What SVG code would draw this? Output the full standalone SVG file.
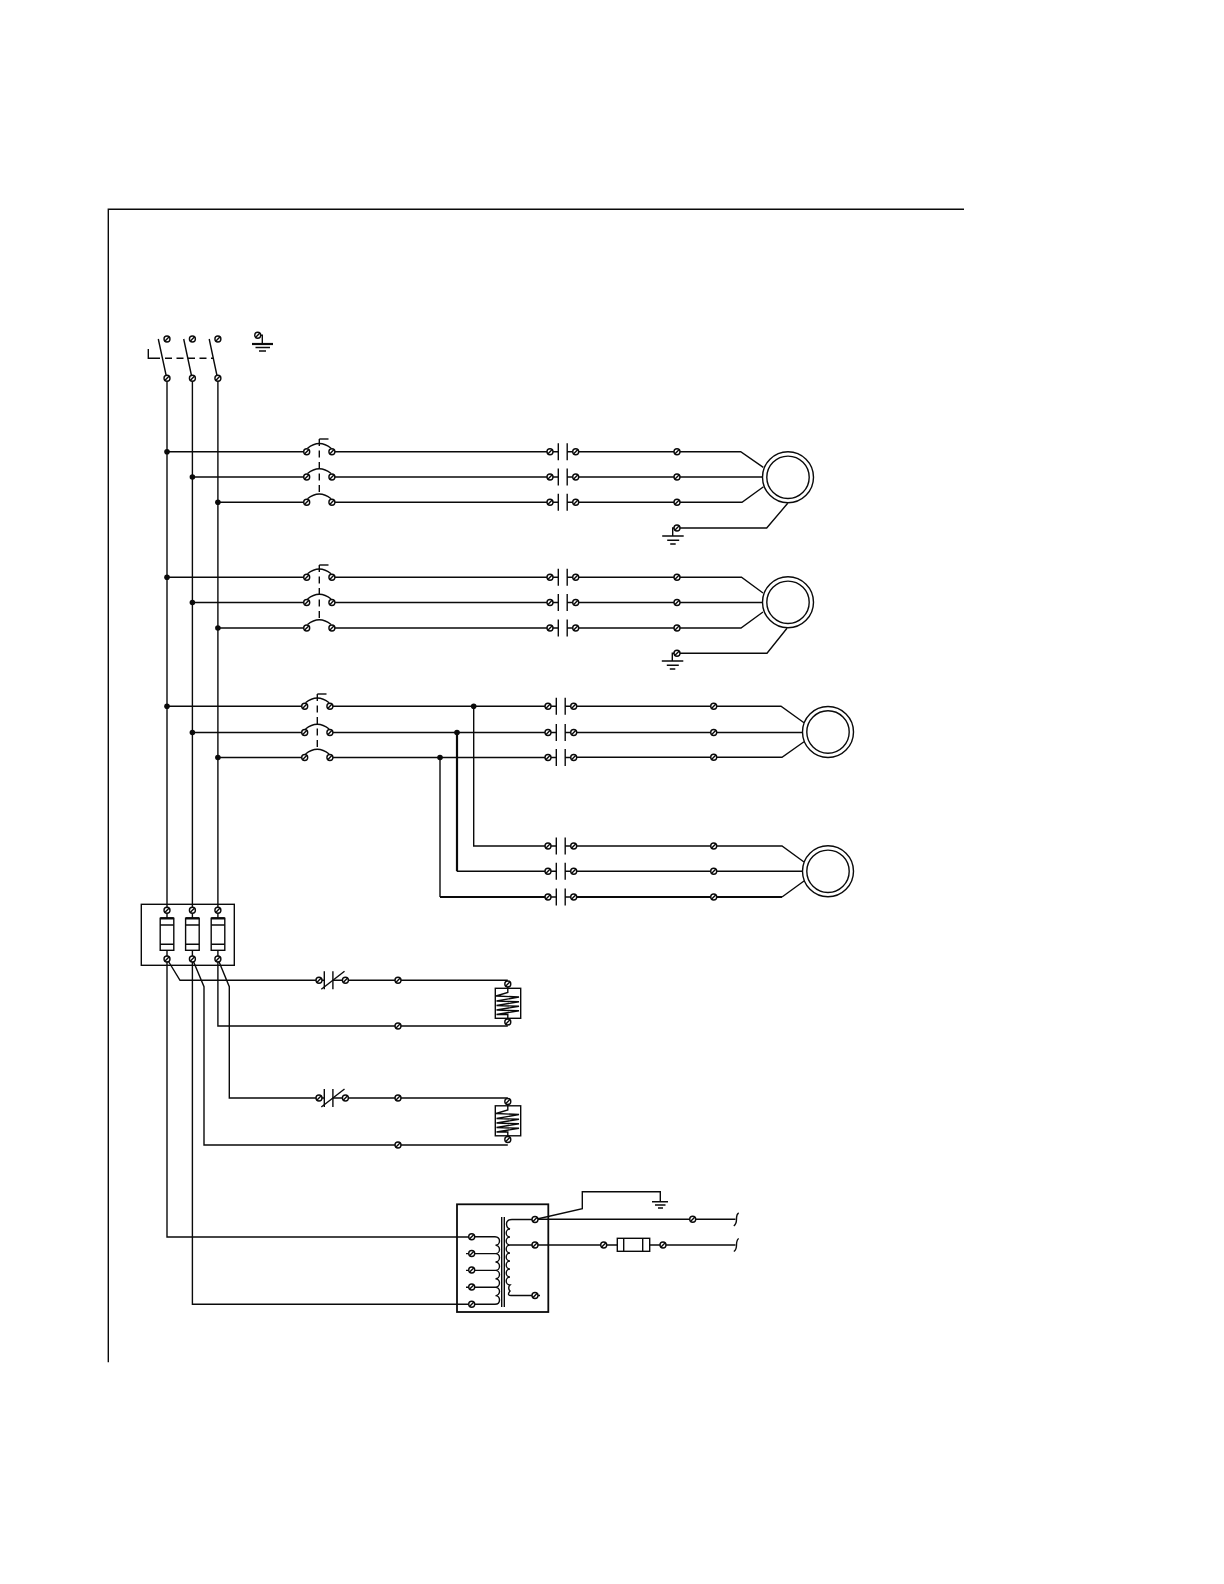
<svg xmlns="http://www.w3.org/2000/svg" width="1224" height="1584" viewBox="0 0 1224 1584">
<style>
.w{fill:none;stroke:#0a0a0a;stroke-width:1.4}
.h{fill:none;stroke:#0a0a0a;stroke-width:2.2}
.d{fill:none;stroke:#0a0a0a;stroke-width:1.4;stroke-dasharray:7 4.5}
.b{fill:none;stroke:#0a0a0a;stroke-width:1.8}
</style>
<defs>
<g id="t"><circle r="3" fill="#fff" stroke="#0a0a0a" stroke-width="1.4"/><path d="M-2.2 2.2L2.2-2.2" stroke="#0a0a0a" stroke-width="1.4"/></g>
<circle id="j" r="2.8" fill="#0a0a0a"/>
<g id="br"><path class="w" d="M-11.8-3.5Q0-13 11.8-3.5"/><use href="#t" x="-12.6"/><use href="#t" x="12.6"/></g>
<g id="ct"><path class="w" d="M4.3-8.5V8.5M13.2-8.5V8.5M-4 0H4.3M13.2 0H20"/><use href="#t" x="-4"/><use href="#t" x="21.7"/></g>
<g id="ctb"><path class="w" d="M4.3-9V9M12.9-9V9M-1 0H4.3M12.9 0H25"/><path class="w" d="M1.3 9L24.5-9"/><use href="#t" x="-1"/><use href="#t" x="25.4"/></g>
<g id="motor"><circle r="25.5" fill="#fff" stroke="#0a0a0a" stroke-width="1.4"/><circle r="21.2" fill="#fff" stroke="#0a0a0a" stroke-width="1.4"/></g>
<g id="gnd"><path class="w" d="M-10.5 0H11M-5.5 4.3H6.5M-2.5 8H3"/></g>
<g id="fuse"><rect x="-6.8" y="0" width="13.6" height="32" fill="#fff" stroke="#0a0a0a" stroke-width="1.4"/><path class="w" d="M-6.8 6.7H6.8M-6.8 26H6.8"/><path d="M-6.8 0H6.8" stroke="#0a0a0a" stroke-width="2.4"/></g>
<g id="heater"><rect x="495.3" y="988.3" width="25.4" height="30" fill="#fff" stroke="#0a0a0a" stroke-width="1.4"/><path class="w" d="M507.8 984V992.5L496 996L519 997L496.5 1001L519 1001.8L496.5 1005.5L519 1006.3L496.5 1010L519 1010.8L496.5 1014.5H507.8V1022"/></g>
</defs>

<g id="frame"><path class="w" d="M964 209.3H108.3V1362.3"/></g>

<g id="connectors">
<path class="w" d="M167 378V910M192.4 378V910M217.9 378V910"/>
<path class="w" d="M167 959V1237H471.7M192.4 959V1304.3H471.7M217.9 959V1026H507.8"/>
<path class="w" d="M167 959L180 980.3H319M192.4 959L204 986.7V1145H507.8M217.9 959L229.3 986.7V1098H319"/>
<path class="w" d="M345.4 980.3H507.8M345.4 1098H507.8"/>
<path class="w" d="M167 451.7H306.7M192.4 477H306.7M217.9 502.3H306.7"/>
<path class="w" d="M332 451.7H550M332 477H550M332 502.3H550"/>
<path class="w" d="M576 451.7H740.7L763.3 467.3M576 477H763M576 502.3H742L763.5 486.7"/>
<path class="w" d="M677 528H766.7L787.7 503.3M677 528H672.7V536"/>
<path class="w" d="M167 577.3H306.7M192.4 602.5H306.7M217.9 628H306.7"/>
<path class="w" d="M332 577.3H550M332 602.5H550M332 628H550"/>
<path class="w" d="M576 577.3H741.5L763 593M576 602.5H763M576 628H741L763 612"/>
<path class="w" d="M677 653.3H767L787 628.3M677 653.3H672.3V661"/>
<path class="w" d="M167 706.3H304.7M192.4 732.5H304.7M217.9 757.5H304.7"/>
<path class="w" d="M330 706.3H548M330 732.5H548M330 757.5H548"/>
<path class="w" d="M574 706.3H781L804 722.7M574 732.5H803M574 757.3H782L804 741.7"/>
<path class="w" d="M473.7 706.3V846H548"/>
<path class="h" d="M457 732.5V871.3"/><path class="w" d="M457 871.3H548"/>
<path class="w" d="M440 757.5V897"/><path class="h" d="M440 897H548M574 897H782"/>
<path class="w" d="M574 846H782L804 862M574 871.3H803M782 897L804 881"/>
<path class="w" d="M535 1219.5L582.3 1208.7V1191.7H660.3V1201.7"/>
<path class="w" d="M535 1219.3H735.5M535 1245H617.3M649.7 1245H735.5"/>
<path class="w" d="M738.7 1213Q736.5 1214 736.5 1219.3Q736.5 1224 733.8 1226M738.7 1238.5Q736.5 1240 736.5 1245Q736.5 1250 733.8 1251.5"/>
</g>

<g id="disconnect">
<path class="w" d="M158.3 339L166.7 378M183.7 339L192 378M209.2 339L217.5 378M148.3 349V358.3H160"/>
<path class="d" d="M165 358.3H213"/>
<use href="#t" x="167" y="339"/><use href="#t" x="192.4" y="339"/><use href="#t" x="217.9" y="339"/>
<use href="#t" x="167" y="378.3"/><use href="#t" x="192.4" y="378.3"/><use href="#t" x="217.9" y="378.3"/>
</g>
<g id="ground-main">
<path class="w" d="M257.7 335.3H262.3V344"/>
<path d="M252 344H273" stroke="#0a0a0a" stroke-width="2.2"/>
<path class="w" d="M255.5 347.5H270M259 351H266"/>
<use href="#t" x="257.7" y="335.3"/>
</g>

<g id="junctions">
<use href="#j" x="167" y="451.7"/><use href="#j" x="192.4" y="477"/><use href="#j" x="217.9" y="502.3"/>
<use href="#j" x="167" y="577.3"/><use href="#j" x="192.4" y="602.5"/><use href="#j" x="217.9" y="628"/>
<use href="#j" x="167" y="706.3"/><use href="#j" x="192.4" y="732.5"/><use href="#j" x="217.9" y="757.5"/>
<use href="#j" x="473.7" y="706.3"/><use href="#j" x="457" y="732.5"/><use href="#j" x="440" y="757.5"/>
</g>

<g id="breaker-1">
<use href="#br" x="319.3" y="451.7"/><use href="#br" x="319.3" y="477"/><use href="#br" x="319.3" y="502.3"/>
<path class="d" d="M319.3 439V494"/><path class="w" d="M319.3 439H328.5"/>
</g>
<g id="breaker-2">
<use href="#br" x="319.3" y="577.3"/><use href="#br" x="319.3" y="602.5"/><use href="#br" x="319.3" y="628"/>
<path class="d" d="M319.3 565V620"/><path class="w" d="M319.3 565H328.5"/>
</g>
<g id="breaker-3">
<use href="#br" x="317.3" y="706.3"/><use href="#br" x="317.3" y="732.5"/><use href="#br" x="317.3" y="757.5"/>
<path class="d" d="M317.3 694V749"/><path class="w" d="M317.3 694H326.5"/>
</g>

<g id="contactor-1"><use href="#ct" x="554" y="451.7"/><use href="#ct" x="554" y="477"/><use href="#ct" x="554" y="502.3"/></g>
<g id="contactor-2"><use href="#ct" x="554" y="577.3"/><use href="#ct" x="554" y="602.5"/><use href="#ct" x="554" y="628"/></g>
<g id="contactor-3"><use href="#ct" x="552" y="706.3"/><use href="#ct" x="552" y="732.5"/><use href="#ct" x="552" y="757.5"/></g>
<g id="contactor-4"><use href="#ct" x="552" y="846"/><use href="#ct" x="552" y="871.3"/><use href="#ct" x="552" y="897"/></g>

<g id="terminals-1"><use href="#t" x="677" y="451.7"/><use href="#t" x="677" y="477"/><use href="#t" x="677" y="502.3"/><use href="#t" x="677" y="528"/></g>
<g id="terminals-2"><use href="#t" x="677" y="577.3"/><use href="#t" x="677" y="602.5"/><use href="#t" x="677" y="628"/><use href="#t" x="677" y="653.3"/></g>
<g id="terminals-3"><use href="#t" x="713.7" y="706.3"/><use href="#t" x="713.7" y="732.5"/><use href="#t" x="713.7" y="757.3"/></g>
<g id="terminals-4"><use href="#t" x="713.7" y="846"/><use href="#t" x="713.7" y="871.3"/><use href="#t" x="713.7" y="897"/></g>
<g id="ground-1"><use href="#gnd" x="672.7" y="536"/></g>
<g id="ground-2"><use href="#gnd" x="672.3" y="661"/></g>

<g id="motor-1"><use href="#motor" x="788" y="477.3"/></g>
<g id="motor-2"><use href="#motor" x="788" y="602.3"/></g>
<g id="motor-3"><use href="#motor" x="828" y="732"/></g>
<g id="motor-4"><use href="#motor" x="828" y="871.3"/></g>

<g id="fuse-block">
<rect x="141.3" y="904.3" width="93" height="61" fill="none" stroke="#0a0a0a" stroke-width="1.4"/>
<path class="w" d="M167 910V918M192.4 910V918M217.9 910V918M167 950V959M192.4 950V959M217.9 950V959"/>
<use href="#fuse" x="167" y="918.3"/><use href="#fuse" x="192.4" y="918.3"/><use href="#fuse" x="218" y="918.3"/>
<use href="#t" x="167" y="910.3"/><use href="#t" x="192.4" y="910.3"/><use href="#t" x="217.9" y="910.3"/>
<use href="#t" x="167" y="959"/><use href="#t" x="192.4" y="959"/><use href="#t" x="217.9" y="959"/>
</g>

<g id="overload-1"><use href="#ctb" x="320" y="980.3"/><use href="#t" x="398" y="980.3"/><use href="#t" x="398" y="1026"/></g>
<g id="overload-2"><use href="#ctb" x="320" y="1098"/><use href="#t" x="398" y="1098"/><use href="#t" x="398" y="1145"/></g>
<g id="heater-1"><use href="#heater"/><use href="#t" x="507.8" y="984"/><use href="#t" x="507.8" y="1022"/></g>
<g id="heater-2"><use href="#heater" y="117.5"/><use href="#t" x="507.8" y="1101.5"/><use href="#t" x="507.8" y="1139.5"/></g>

<g id="transformer">
<rect x="457" y="1204.3" width="91.3" height="107.7" fill="none" stroke="#0a0a0a" stroke-width="1.8"/>
<path class="w" d="M501.7 1217V1307M504.3 1217V1307"/>
<path class="w" d="M471.7 1236.7H495Q499.5 1237 499.5 1241A4 4.2 0 0 1 495.5 1245.2A4 4.2 0 0 1 495.5 1253.6H466M495.5 1253.6A4 4.2 0 0 1 495.5 1262A4 4.2 0 0 1 495.5 1270.4H466M495.5 1270.4A4 4.2 0 0 1 495.5 1278.8A4 4.2 0 0 1 495.5 1287.2H466M495.5 1287.2A4 4.2 0 0 1 495.5 1295.6Q499.5 1296 499.5 1300Q499.5 1304.3 495 1304.3H471.7"/>
<path class="w" d="M535 1219.5H512Q506.5 1219.5 506.5 1224Q506.5 1228 510 1229A3.8 4 0 0 0 510 1237A3.8 4 0 0 0 510 1245H535M510 1245A3.8 4 0 0 0 510 1253A3.8 4 0 0 0 510 1261A3.8 4 0 0 0 510 1269A3.8 4 0 0 0 510 1277A3.8 4 0 0 0 510 1285A3.8 4 0 0 0 510 1291Q506.5 1295.5 511 1295.5H540"/>
<use href="#t" x="471.7" y="1236.7"/><use href="#t" x="471.7" y="1253.5"/><use href="#t" x="471.7" y="1270"/><use href="#t" x="471.7" y="1287"/><use href="#t" x="471.7" y="1304.3"/>
<use href="#t" x="535" y="1219.5"/><use href="#t" x="535" y="1245"/><use href="#t" x="535" y="1295.5"/>
</g>
<g id="ground-3"><path class="w" d="M652 1201.7H668M655 1205H665.5M658 1208H663"/></g>
<g id="terminal-upper"><use href="#t" x="692.7" y="1219.3"/></g>
<g id="control-fuse">
<rect x="617.3" y="1238.3" width="32.4" height="13" fill="#fff" stroke="#0a0a0a" stroke-width="1.4"/>
<path class="w" d="M623.7 1238.3V1251.3M642.7 1238.3V1251.3"/>
<use href="#t" x="603.7" y="1245"/><use href="#t" x="663" y="1245"/>
</g>
</svg>
